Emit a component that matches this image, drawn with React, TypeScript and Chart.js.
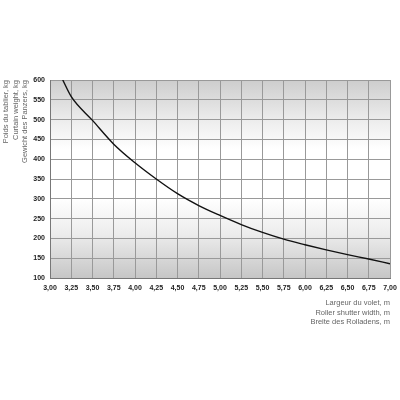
import React, { useEffect, useRef } from "react";
import { Chart, registerables } from "chart.js";

Chart.register(...registerables);

const widths = [3.15, 3.25, 3.5, 3.75, 4.0, 4.25, 4.5, 4.75, 5.0, 5.25, 5.5, 5.75, 6.0, 6.25, 6.5, 6.75, 7.0];
const weights = [600, 558, 498, 438, 391, 350, 313, 283, 258, 235, 215, 198, 184, 171, 159, 148, 136];
const yTitleLines = ["Poids du tablier, kg", "Curtain weight, kg", "Gewicht des Panzers, kg"];
const xTitleLines = ["Largeur du volet, m", "Roller shutter width, m", "Breite des Rolladens, m"];

const bgPlugin = {
  id: "bgGradient",
  beforeDraw(chart: any) {
    const { ctx, chartArea } = chart;
    if (!chartArea) return;
    const { left, top, right, bottom } = chartArea;
    const g = ctx.createLinearGradient(0, top, 0, bottom);
    g.addColorStop(0, "#cdcdcd");
    g.addColorStop(0.2, "#ececec");
    g.addColorStop(0.35, "#ffffff");
    g.addColorStop(0.6, "#ffffff");
    g.addColorStop(0.78, "#ececec");
    g.addColorStop(1, "#c6c6c6");
    ctx.save();
    ctx.fillStyle = g;
    ctx.fillRect(left, top, right - left, bottom - top);
    ctx.restore();
  },
  afterDraw(chart: any) {
    const { ctx, chartArea } = chart;
    ctx.save();
    ctx.fillStyle = "#666";
    ctx.font = "7.5px 'Liberation Sans', Arial, sans-serif";
    ctx.textBaseline = "middle";
    ctx.textAlign = "right";
    xTitleLines.forEach((t, i) => {
      ctx.fillText(t, chartArea.right, chartArea.bottom + 25 + i * 9.5);
    });
    ctx.translate(6, chartArea.top);
    ctx.rotate(-Math.PI / 2);
    ctx.textAlign = "right";
    yTitleLines.forEach((t, i) => {
      ctx.fillText(t, 0, i * 9.5);
    });
    ctx.restore();
  },
};

export default function App() {
  const ref = useRef<HTMLCanvasElement>(null);
  useEffect(() => {
    if (!ref.current) return;
    const chart = new Chart(ref.current, {
      type: "line",
      data: {
        datasets: [
          {
            data: widths.map((w, i) => ({ x: w, y: weights[i] })),
            borderColor: "#111",
            borderWidth: 1.4,
            pointRadius: 0,
            cubicInterpolationMode: "monotone",
            fill: false,
          },
        ],
      },
      options: {
        responsive: false,
        animation: false,
        layout: { padding: { top: 80, right: 10, bottom: 0, left: 0 } },
        plugins: { legend: { display: false }, tooltip: { enabled: false } },
        scales: {
          x: {
            type: "linear",
            min: 3,
            max: 7,
            afterFit: (s: any) => {
              s.height = 122;
              s.paddingLeft = 0;
              s.paddingRight = 0;
            },
            ticks: {
              stepSize: 0.25,
              autoSkip: false,
              maxRotation: 0,
              padding: 6,
              color: "#222",
              font: { family: "'Liberation Sans', Arial, sans-serif", size: 7, weight: "bold" },
              callback: (v: any) => Number(v).toFixed(2).replace(".", ","),
            },
            grid: { color: "#999", drawTicks: false, lineWidth: 1 },
            border: { color: "#777" },
          },
          y: {
            type: "linear",
            min: 100,
            max: 600,
            afterFit: (s: any) => {
              s.width = 50;
              s.paddingTop = 0;
              s.paddingBottom = 0;
            },
            ticks: {
              stepSize: 50,
              padding: 5,
              color: "#222",
              font: { family: "'Liberation Sans', Arial, sans-serif", size: 7, weight: "bold" },
            },
            grid: { color: "#999", drawTicks: false, lineWidth: 1 },
            border: { color: "#777" },
          },
        },
      },
      plugins: [bgPlugin],
    } as any);
    return () => chart.destroy();
  }, []);
  return (
    <div style={{ position: "absolute", left: 0, top: 0, width: 400, height: 400, background: "#fff" }}>
      <canvas ref={ref} width={400} height={400} />
    </div>
  );
}
